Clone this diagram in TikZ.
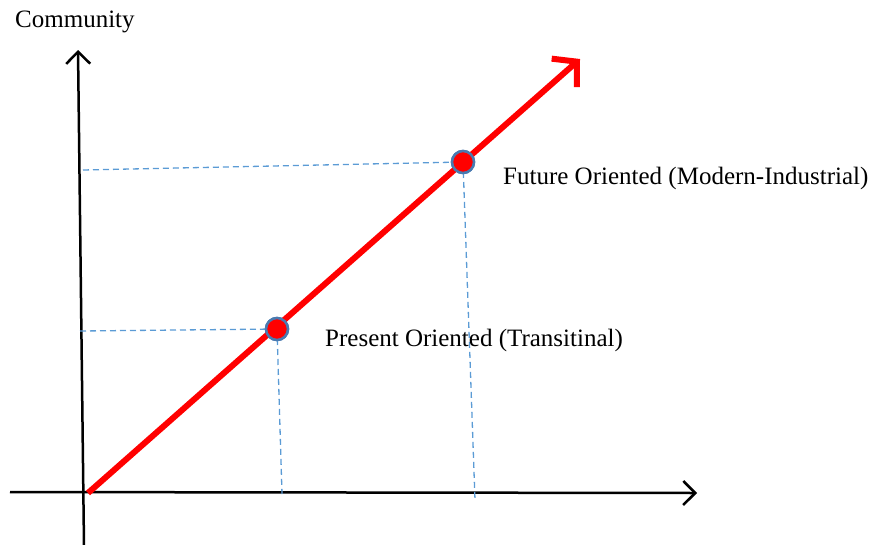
\documentclass[tikz,border=0pt]{standalone}
\usepackage{fontspec}
\setmainfont{Liberation Serif}
\usetikzlibrary{arrows.meta}
\definecolor{dashblue}{HTML}{5B9BD5}
\definecolor{ptborder}{HTML}{4A7AB0}
\begin{document}
\begin{tikzpicture}[x=1pt,y=-1pt,
  axis/.style={line width=2.5pt,black,-{Straight Barb[length=12pt,width=24pt,line width=2.5pt]}},
  guide/.style={dashblue,line width=1.3pt,dash pattern=on 6pt off 4pt},
  pt/.style={circle,fill=red,draw=ptborder,line width=2.5pt,minimum size=22pt,inner sep=0pt},
  lbl/.style={font=\fontsize{25}{30}\selectfont,anchor=west,inner sep=0pt}]
\useasboundingbox (0,0) rectangle (877,544);
\coordinate (vb) at (84,546);
\coordinate (vt) at (78,50);
\coordinate (hl) at (10,492);
\coordinate (hr) at (697,493);
\draw[axis] (vb) -- (vt);
\draw[axis] (hl) -- (hr);
\node[lbl] (comm) at (15,22) {Community};
% guides
\coordinate (uh) at (83,170);
\coordinate (uv) at (475,500);
\coordinate (lh) at (80,331);
\coordinate (lv) at (282,494);
\coordinate (o) at (88,493);
\coordinate (tip) at (580,59);
\node[pt] (p1) at (277,329) {};
\node[pt] (p2) at (463,162) {};
\draw[guide] (uh) -- (p2.center);
\draw[guide] (p2.center) -- (uv);
\draw[guide] (lh) -- (p1.center);
\draw[guide] (p1.center) -- (lv);
\draw[red,line width=6pt,-{Straight Barb[length=17pt,width=38pt,line width=6pt]}] (o) -- (tip);
\node[pt] at (277,329) {};
\node[pt] at (463,162) {};
\node[lbl] (fut) at (503,178) {Future Oriented (Modern-Industrial)};
\node[lbl] (pres) at (325,340) {Present Oriented (Transitinal)};
\end{tikzpicture}
\end{document}
